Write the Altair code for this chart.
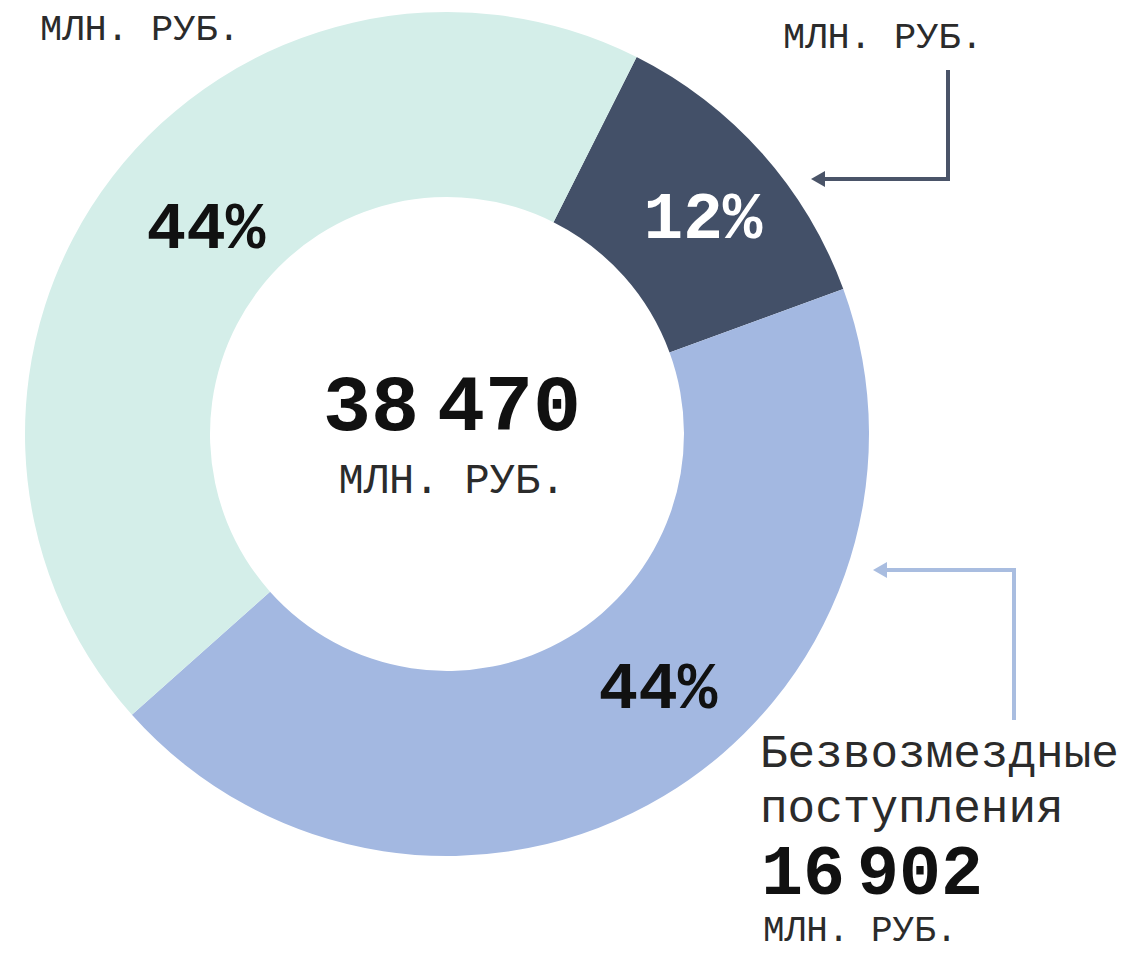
import math
import altair as alt
import pandas as pd

# ---- data ----
categories = ["Неналоговые доходы", "Безвозмездные поступления", "Налоговые доходы"]
shares = [12, 44, 44]
pct_labels = ["12%", "44%", "44%"]
colors = ["#435068", "#a3b8e1", "#d4eee9"]
total_label = "38 470"
grant_label = "16 902"
unit_label = "МЛН. РУБ."
grant_name = ["Безвозмездные", "поступления"]

df = pd.DataFrame({"cat": categories, "share": shares, "idx": list(range(len(categories))),
                   "pct": pct_labels})

W, H = 1118, 944
M = 8  # page margin
def px(v):
    return v - M

CX, CY = px(447), px(434)
START = math.radians(26.7)
FONT = "Liberation Mono"

base = alt.Chart(df)

donut = base.mark_arc(innerRadius=237, outerRadius=422).encode(
    theta=alt.Theta("share:Q", stack=True, scale=alt.Scale(range=[START, START + 2 * math.pi])),
    color=alt.Color("cat:N", scale=alt.Scale(domain=categories, range=colors), legend=None),
    order=alt.Order("idx:Q"),
    x=alt.value(CX),
    y=alt.value(CY),
)

# percentage labels (positions are layout)
pct_pos = {0: (703, 238, "#ffffff"), 1: (658, 708, "#111111"), 2: (206, 248, "#111111")}
pct_layers = []
for i, (lx, ly, col) in pct_pos.items():
    pct_layers.append(
        base.transform_filter(alt.datum.idx == i).mark_text(
            font=FONT, fontWeight="bold", fontSize=66, align="center", baseline="alphabetic", color=col
        ).encode(text="pct:N", x=alt.value(px(lx)), y=alt.value(px(ly)))
    )

one = alt.Chart(pd.DataFrame({"t": [0]}))

def label(text, x, y, size, weight="normal", align="left", color="#2b2b2b"):
    return one.mark_text(
        text=text, font=FONT, fontSize=size, fontWeight=weight, align=align,
        baseline="alphabetic", color=color
    ).encode(x=alt.value(px(x)), y=alt.value(px(y)))

def number(text, x_gap_left, x_gap_right, y, size):
    # thousands separated by a narrow gap, as in the reference
    head_part, tail_part = text.split(" ")
    return [
        label(head_part, x_gap_left, y, size, "bold", "right", "#111111"),
        label(tail_part, x_gap_right, y, size, "bold", "left", "#111111"),
    ]

texts = [
    *number(total_label, 419, 437, 430, 80),
    label(unit_label, 452, 493, 42, "normal", "center"),
    label(unit_label, 40, 40, 37),
    label(unit_label, 783, 48, 37),
    label(grant_name[0], 760, 767, 46),
    label(grant_name[1], 760, 822, 46),
    *number(grant_label, 845, 857, 894, 70),
    label(unit_label, 763, 941, 36),
]

def rule(x1, y1, x2, y2, color):
    return one.mark_rule(color=color, strokeWidth=4).encode(
        x=alt.value(px(x1)), x2=alt.value(px(x2)), y=alt.value(px(y1)), y2=alt.value(px(y2))
    )

def head(x, y, color):
    return one.mark_point(shape="triangle-left", filled=True, size=260, color=color, opacity=1).encode(
        x=alt.value(px(x)), y=alt.value(px(y))
    )

dark_c = "#4a5468"
blue_c = "#a9bde0"
arrows = [
    rule(948, 70, 948, 181, dark_c),
    rule(948, 179, 820, 179, dark_c),
    head(818, 179, dark_c),
    rule(1014, 568, 1014, 720, blue_c),
    rule(1016, 570, 880, 570, blue_c),
    head(880, 570, blue_c),
]

chart = alt.layer(donut, *pct_layers, *texts, *arrows).properties(
    width=W, height=H, autosize=alt.AutoSizeParams(type="none"), padding=0
).configure_view(stroke=None)

chart.save("out.html", embed_options={"renderer": "svg", "actions": False})
